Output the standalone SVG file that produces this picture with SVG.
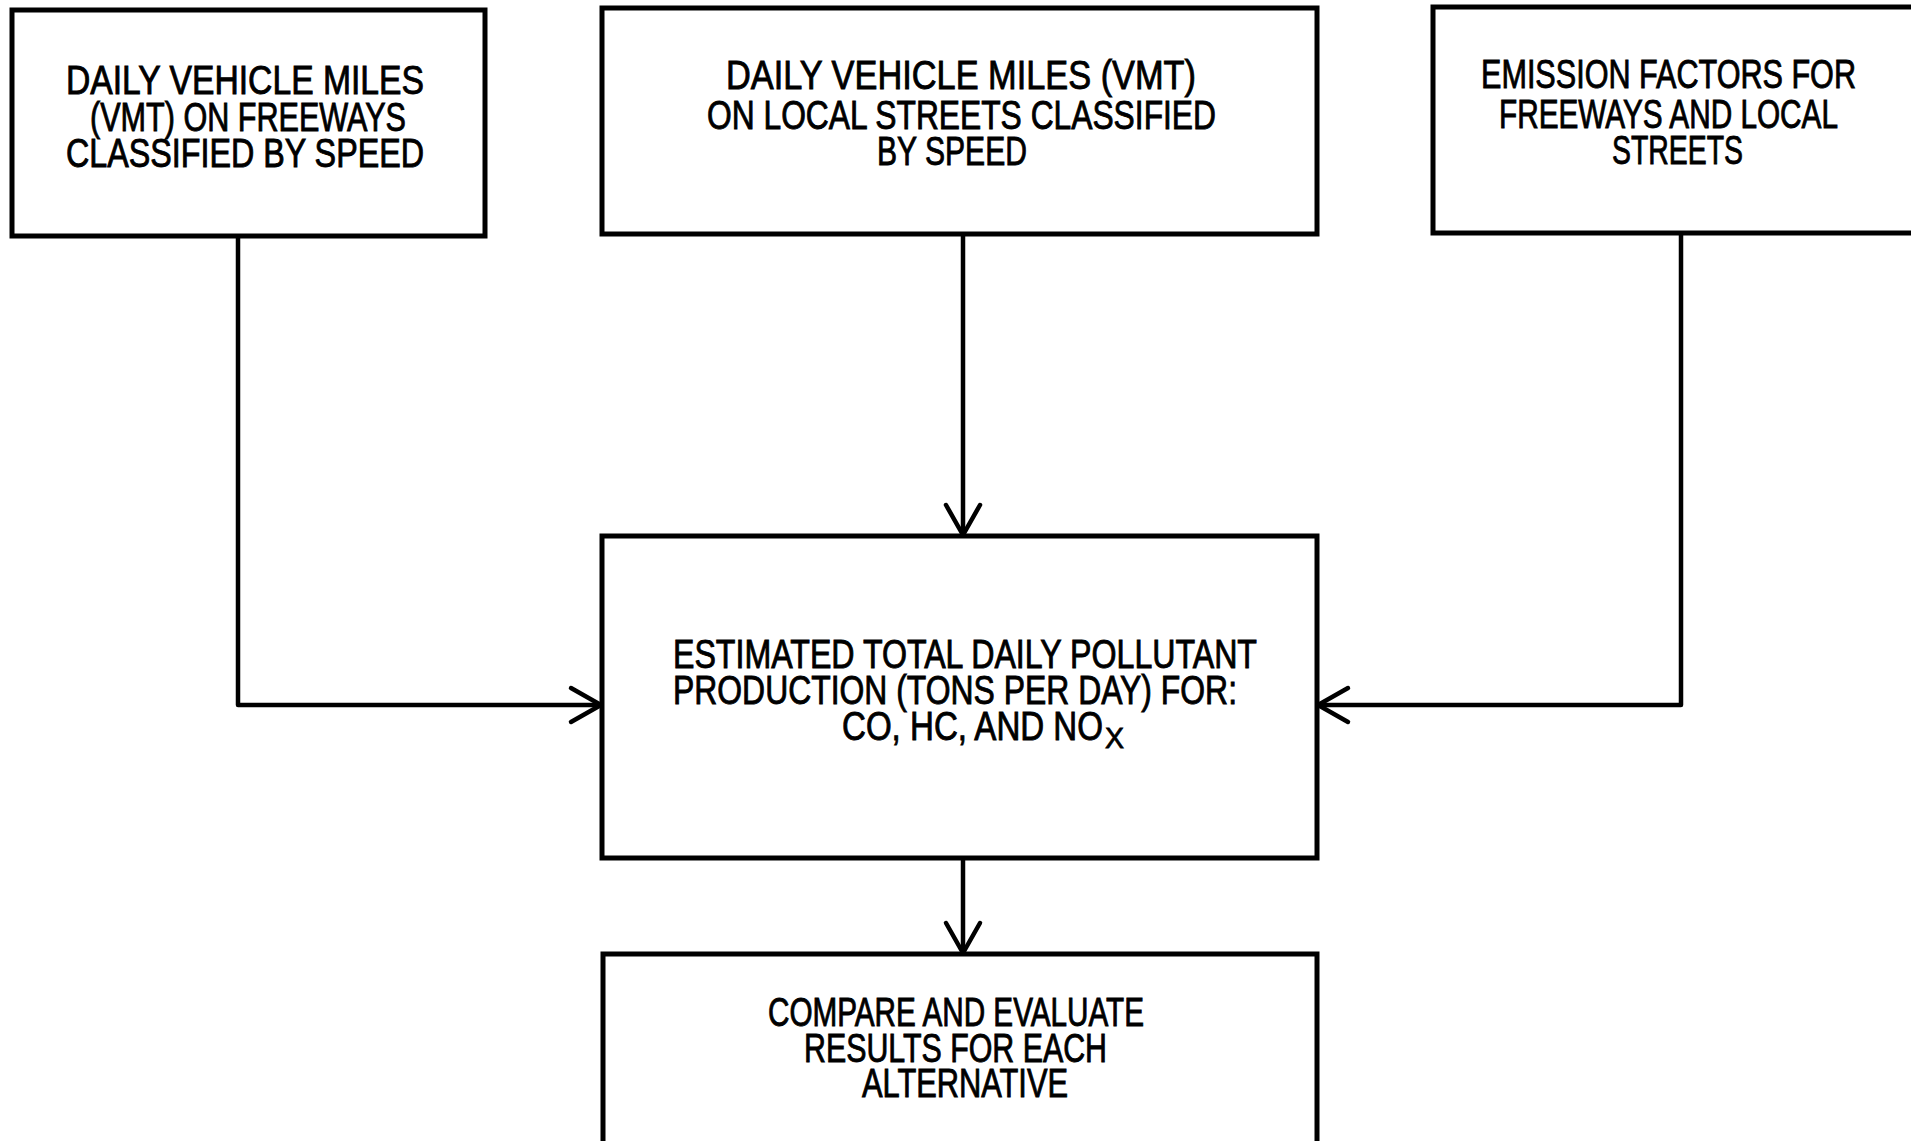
<svg xmlns="http://www.w3.org/2000/svg" width="1911" height="1141" viewBox="0 0 1911 1141">
<style>
.box{fill:#fff;stroke:#000;stroke-width:5}
.t{font-family:"Liberation Sans","DejaVu Sans",sans-serif;font-size:40px;fill:#000;stroke:#000;stroke-width:0.9}
.sub{font-family:"Liberation Sans","DejaVu Sans",sans-serif;font-size:30px;fill:#000;stroke:#000;stroke-width:0.8}
.c{fill:none;stroke:#000;stroke-width:4.5;stroke-linejoin:round}
</style>
<defs>
<marker id="arr" markerUnits="userSpaceOnUse" viewBox="-36 -22 42 44" markerWidth="42" markerHeight="44" refX="0" refY="0" orient="auto">
<path d="M-30,-17 L0,0 L-30,17" fill="none" stroke="#000" stroke-width="4.5" stroke-linecap="round" stroke-linejoin="miter"/>
</marker>
</defs>
<rect width="1911" height="1141" fill="#fff"/>
<g id="connectors">
<path class="c" d="M238,236 V705 H601" marker-end="url(#arr)"/>
<path class="c" d="M963,234 V535" marker-end="url(#arr)"/>
<path class="c" d="M1681,233 V705 H1318" marker-end="url(#arr)"/>
<path class="c" d="M963,858 V953" marker-end="url(#arr)"/>
</g>
<g id="n1">
<rect class="box" x="12" y="10" width="473" height="226"/>
<text class="t" x="66" y="94" textLength="358" lengthAdjust="spacingAndGlyphs">DAILY VEHICLE MILES</text>
<text class="t" x="90" y="131" textLength="316" lengthAdjust="spacingAndGlyphs">(VMT) ON FREEWAYS</text>
<text class="t" x="66" y="167" textLength="358" lengthAdjust="spacingAndGlyphs">CLASSIFIED BY SPEED</text>
</g>
<g id="n2">
<rect class="box" x="602" y="8" width="715" height="226"/>
<text class="t" x="726" y="89" textLength="470" lengthAdjust="spacingAndGlyphs">DAILY VEHICLE MILES (VMT)</text>
<text class="t" x="707" y="129" textLength="509" lengthAdjust="spacingAndGlyphs">ON LOCAL STREETS CLASSIFIED</text>
<text class="t" x="877" y="165" textLength="150" lengthAdjust="spacingAndGlyphs">BY SPEED</text>
</g>
<g id="n3">
<rect class="box" x="1433" y="7" width="500" height="226"/>
<text class="t" x="1481" y="88" textLength="375" lengthAdjust="spacingAndGlyphs">EMISSION FACTORS FOR</text>
<text class="t" x="1499" y="128" textLength="339" lengthAdjust="spacingAndGlyphs">FREEWAYS AND LOCAL</text>
<text class="t" x="1612" y="164" textLength="131" lengthAdjust="spacingAndGlyphs">STREETS</text>
</g>
<g id="n4">
<rect class="box" x="602" y="536" width="715" height="322"/>
<text class="t" x="673" y="668" textLength="584" lengthAdjust="spacingAndGlyphs">ESTIMATED TOTAL DAILY POLLUTANT</text>
<text class="t" x="673" y="704" textLength="564" lengthAdjust="spacingAndGlyphs">PRODUCTION (TONS PER DAY) FOR:</text>
<text class="t" x="842" y="740" textLength="261" lengthAdjust="spacingAndGlyphs">CO, HC, AND NO</text>
<text class="sub" x="1105" y="748" textLength="19" lengthAdjust="spacingAndGlyphs">X</text>
</g>
<g id="n5">
<rect class="box" x="603" y="954" width="714" height="220"/>
<text class="t" x="768" y="1026" textLength="376" lengthAdjust="spacingAndGlyphs">COMPARE AND EVALUATE</text>
<text class="t" x="804" y="1062" textLength="303" lengthAdjust="spacingAndGlyphs">RESULTS FOR EACH</text>
<text class="t" x="862" y="1097" textLength="206" lengthAdjust="spacingAndGlyphs">ALTERNATIVE</text>
</g>
</svg>
